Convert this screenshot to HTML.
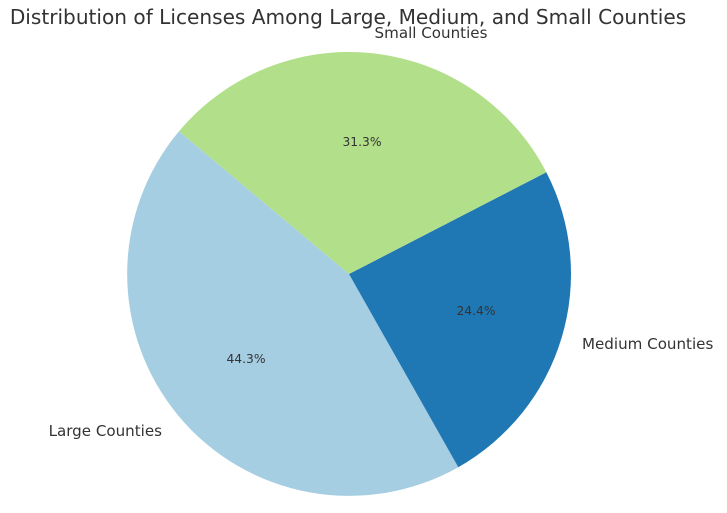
<!DOCTYPE html>
<html><head><style>body{margin:0;background:#fff}svg{display:block}text{font-family:"DejaVu Sans","Liberation Sans",sans-serif;fill:#333}</style></head>
<body>
<svg width="727" height="513" viewBox="0 0 727 513">
<text x="348" y="24" font-size="20.1" text-anchor="middle">Distribution of Licenses Among Large, Medium, and Small Counties</text>
<path d="M349,274 L179,131.3 A222,222 0 0 0 458.3,467.2 Z" fill="#a6cee3"/>
<path d="M349,274 L458.3,467.2 A222,222 0 0 0 546.3,172.2 Z" fill="#1f78b4"/>
<path d="M349,274 L546.3,172.2 A222,222 0 0 0 179,131.3 Z" fill="#b2df8a"/>
<text x="431" y="38" font-size="15.1" text-anchor="middle">Small Counties</text>
<text x="582" y="349" font-size="15.1">Medium Counties</text>
<text x="162" y="436" font-size="15.1" text-anchor="end">Large Counties</text>
<text x="362" y="146" font-size="12.3" text-anchor="middle">31.3%</text>
<text x="476" y="315" font-size="12.3" text-anchor="middle">24.4%</text>
<text x="246" y="363" font-size="12.3" text-anchor="middle">44.3%</text>
</svg>
</body></html>
